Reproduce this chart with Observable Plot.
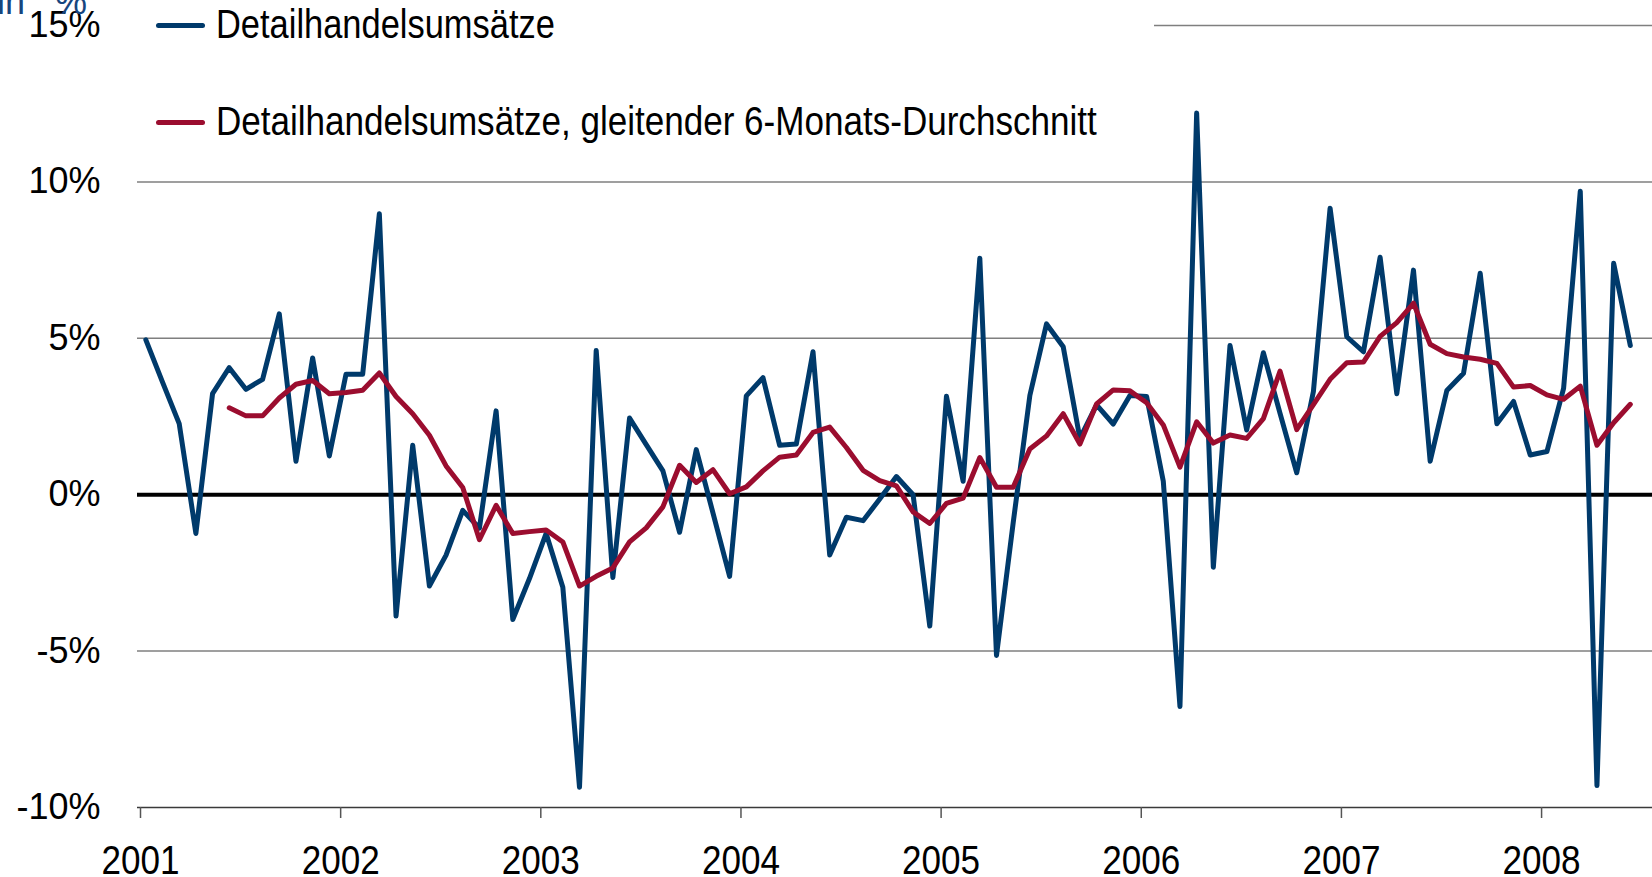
<!DOCTYPE html>
<html>
<head>
<meta charset="utf-8">
<script src="https://cdn.jsdelivr.net/npm/d3@7"></script>
<script src="https://cdn.jsdelivr.net/npm/@observablehq/plot@0.6"></script>
<style>
  html, body { margin: 0; padding: 0; background: #fff; overflow: hidden; }
  #wrap { position: relative; width: 1652px; height: 877px; font-family: "Liberation Sans", Arial, sans-serif; }
  #unit { position: absolute; left: -3px; top: -16px; font-size: 36px; line-height: 36px; color: #17467e; word-spacing: 20px; white-space: nowrap; }
  #legend { position: absolute; left: 137px; top: 0; width: 1017px; height: 165px; background: #fff; }
  .sw { position: absolute; left: 19px; width: 49px; height: 5px; border-radius: 3px; }
  .lt { position: absolute; left: 79px; font-size: 41px; line-height: 41px; color: #000; white-space: nowrap; transform-origin: 0 0; }
</style>
</head>
<body>
<div id="wrap">
  <div id="chart"></div>
  <div id="unit">in %</div>
  <div id="legend"></div>
</div>
<script>
// Series labels
const seriesNames = ["Detailhandelsumsätze", "Detailhandelsumsätze, gleitender 6-Monats-Durchschnitt"];
const seriesColors = ["#003a6b", "#9b0d2f"];

// Year tick labels (category axis, 12 months each)
const years = ["2001", "2002", "2003", "2004", "2005", "2006", "2007", "2008"];

// Monthly categories Jan 2001 – Jun 2008
const months = d3.utcMonths(new Date(Date.UTC(2001, 0, 1)), new Date(Date.UTC(2008, 6, 1)));

// Retail sales, y/y change in %
const retail = [
  4.95, 3.6, 2.27, -1.24, 3.23, 4.06, 3.37, 3.69, 5.78, 1.07, 4.37, 1.24,
  3.85, 3.85, 8.98, -3.88, 1.58, -2.92, -1.93, -0.5, -1.07, 2.68, -3.99, -2.68,
  -1.24, -2.96, -9.35, 4.61, -2.65, 2.45, 1.6, 0.76, -1.2, 1.44, -0.58, -2.61,
  3.16, 3.74, 1.58, 1.62, 4.57, -1.93, -0.72, -0.83, -0.14, 0.58, 0.0, -4.2,
  3.15, 0.43, 7.56, -5.14, -0.9, 3.17, 5.46, 4.73, 1.8, 2.87, 2.26, 3.17,
  3.14, 0.43, -6.77, 12.2, -2.32, 4.77, 2.07, 4.54, 2.6, 0.7, 3.3, 9.16,
  5.05, 4.57, 7.59, 3.23, 7.18, 1.07, 3.33, 3.88, 7.08, 2.27, 2.98, 1.27,
  1.38, 3.4, 9.7, -9.3, 7.4, 4.77
];

// 6-month moving average (starts June 2001)
const avg6 = [
  null, null, null, null, null, 2.78, 2.52, 2.52, 3.09, 3.53, 3.65, 3.23,
  3.27, 3.34, 3.89, 3.14, 2.59, 1.9, 0.92, 0.23, -1.44, -0.34, -1.24, -1.18,
  -1.13, -1.51, -2.92, -2.61, -2.34, -1.51, -1.06, -0.39, 0.94, 0.39, 0.8, 0.03,
  0.25, 0.76, 1.2, 1.27, 1.99, 2.16, 1.51, 0.78, 0.45, 0.28, -0.55, -0.92,
  -0.28, -0.11, 1.19, 0.24, 0.24, 1.46, 1.88, 2.59, 1.62, 2.9, 3.35, 3.32,
  2.94, 2.23, 0.88, 2.33, 1.65, 1.91, 1.8, 2.43, 3.95, 2.08, 2.88, 3.69,
  4.22, 4.24, 5.06, 5.5, 6.12, 4.81, 4.51, 4.4, 4.33, 4.2, 3.44, 3.49,
  3.19, 3.05, 3.47, 1.58, 2.3, 2.89
];

// y-axis ticks
const yTicks = [-10, -5, 0, 5, 10, 15];

const rows = months.map((m, i) => ({date: m, pos: i + 0.5, retail: retail[i], avg: avg6[i]}));
const xTicks = years.map((y, k) => k * 12);

const chart = Plot.plot({
  width: 1652,
  height: 877,
  marginLeft: 137,
  marginRight: 0,
  marginTop: 25,
  marginBottom: 70,
  style: {fontFamily: "'Liberation Sans', Arial, sans-serif", background: "#fff", color: "#000"},
  x: {type: "linear", domain: [0, 90.83]},
  y: {domain: [-10, 15]},
  marks: [
    Plot.ruleY(yTicks.filter(d => d !== 0 && d !== -10), {stroke: "#7f7f7f", strokeWidth: 1.5}),
    Plot.ruleY([-10], {stroke: "#3a3a3a", strokeWidth: 1.5}),
    Plot.ruleY([0], {stroke: "#000", strokeWidth: 4}),
    Plot.axisY({ticks: yTicks, tickFormat: d => d + "%", tickSize: 0, tickPadding: 37, fontSize: 36, fill: "#000", label: null}),
    Plot.axisX({ticks: xTicks, tickFormat: d => years[Math.round(d / 12)], tickSize: 11, tickPadding: 26, fontSize: 41, fill: "#000", stroke: "#555", strokeWidth: 1.5, dx: 3, label: null}),
    Plot.lineY(rows, {x: "pos", y: "retail", stroke: seriesColors[0], strokeWidth: 5, strokeLinejoin: "round", strokeLinecap: "round"}),
    Plot.lineY(rows, {x: "pos", y: "avg", stroke: seriesColors[1], strokeWidth: 5, strokeLinejoin: "round", strokeLinecap: "round"})
  ]
});
document.getElementById("chart").appendChild(chart);

// condensed look of the year labels
chart.querySelectorAll('g[aria-label="x-axis tick label"] text').forEach(t => {
  const w = t.getComputedTextLength();
  t.setAttribute("textLength", (w * 0.855).toFixed(1));
  t.setAttribute("lengthAdjust", "spacingAndGlyphs");
});

// legend
const legend = document.getElementById("legend");
const rowsTop = [25, 122];
const legendScale = [0.84, 0.855];
seriesNames.forEach((name, k) => {
  const sw = document.createElement("div");
  sw.className = "sw";
  sw.style.top = (rowsTop[k] - 2.5) + "px";
  sw.style.background = seriesColors[k];
  legend.appendChild(sw);
  const tx = document.createElement("div");
  tx.className = "lt";
  tx.style.top = (rowsTop[k] - 21) + "px";
  tx.style.transform = "scaleX(" + legendScale[k] + ")";
  tx.textContent = name;
  legend.appendChild(tx);
});
</script>
</body>
</html>
